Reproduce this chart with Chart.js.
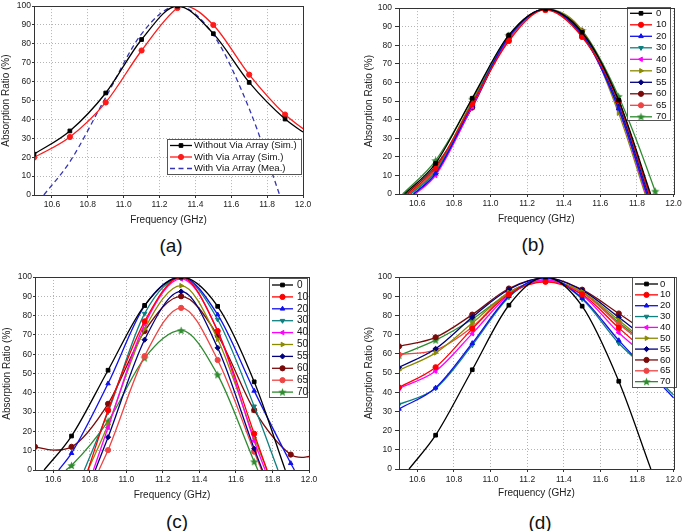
<!DOCTYPE html>
<html>
<head>
<meta charset="utf-8">
<script src="https://cdn.jsdelivr.net/npm/chart.js@4.4.1/dist/chart.umd.min.js"></script>
<style>
html, body { margin: 0; padding: 0; background: #fff; }
body { position: relative; width: 685px; height: 531px; overflow: hidden; font-family: "Liberation Sans", Arial, sans-serif; }
canvas { position: absolute; }
.tag { position: absolute; font-size: 19px; color: #111; transform: translate(-50%, -50%); }
</style>
</head>
<body>
<canvas id="chartA" width="340" height="232" style="left:0;top:0"></canvas>
<canvas id="chartB" width="345" height="232" style="left:340px;top:0"></canvas>
<canvas id="chartC" width="340" height="240" style="left:0;top:265px"></canvas>
<canvas id="chartD" width="345" height="240" style="left:340px;top:265px"></canvas>
<div class="tag" style="left:171px;top:246px">(a)</div>
<div class="tag" style="left:533px;top:245px">(b)</div>
<div class="tag" style="left:177px;top:522px">(c)</div>
<div class="tag" style="left:540px;top:523px">(d)</div>
<script>
// frequencies where the simulation markers sit, axis ticks
const markerFreqs = [10.5, 10.7, 10.9, 11.1, 11.3, 11.5, 11.7, 11.9];
const xTicks = [10.6, 10.8, 11.0, 11.2, 11.4, 11.6, 11.8, 12.0];
const yTicks = [0, 10, 20, 30, 40, 50, 60, 70, 80, 90, 100];
const angleNames = ['0', '10', '20', '30', '40', '50', '55', '60', '65', '70'];

// (a) via array comparison, [GHz, %]
const aNames = ['Without Via Array (Sim.)', 'With Via Array (Sim.)', 'With Via Array (Mea.)'];
const aWithout = [[10.5, 21.6], [10.7, 33.9], [10.9, 54], [11.1, 82.3], [11.3, 100], [11.5, 85.4], [11.7, 59.6], [11.9, 40.2], [12.0, 33.3]];
const aWith = [[10.5, 19.8], [10.7, 30.7], [10.9, 49], [11.1, 76.5], [11.3, 99], [11.34, 100], [11.5, 90], [11.7, 63.7], [11.9, 42.6], [12.0, 35.1]];
const aMeasured = [[10.555, 0], [10.7, 17.6], [10.9, 51.7], [11.1, 85.3], [11.3, 100], [11.5, 84.8], [11.7, 45.7], [11.87, 0]];

// (b)
const b0 = [[10.53, 0], [10.7, 16.5], [10.9, 51.5], [11.1, 85.5], [11.3, 99.5], [11.5, 87], [11.7, 50.5], [11.875, 0]];
const b10 = [[10.55, 0], [10.7, 14], [10.9, 48.5], [11.1, 82.3], [11.3, 99], [11.5, 84.5], [11.7, 50], [11.87, 0]];
const b20 = [[10.58, 0], [10.7, 11], [10.9, 48], [11.1, 84.5], [11.3, 99.5], [11.5, 86], [11.7, 46], [11.855, 0]];
const b30 = [[10.565, 0], [10.7, 12], [10.9, 49], [11.1, 84.5], [11.3, 99.5], [11.5, 86.5], [11.7, 46], [11.855, 0]];
const b40 = [[10.59, 0], [10.7, 10], [10.9, 47], [11.1, 84], [11.3, 99.5], [11.5, 86], [11.7, 45.5], [11.85, 0]];
const b50 = [[10.56, 0], [10.7, 13], [10.9, 50], [11.1, 85], [11.3, 99.5], [11.5, 88], [11.7, 43.5], [11.845, 0]];
const b55 = [[10.58, 0], [10.7, 11], [10.9, 47], [11.1, 84], [11.3, 99.5], [11.5, 85.5], [11.7, 47.5], [11.86, 0]];
const b60 = [[10.54, 0], [10.7, 15], [10.9, 46.5], [11.1, 85], [11.3, 99.5], [11.5, 87.5], [11.7, 50], [11.87, 0]];
const b65 = [[10.56, 0], [10.7, 13], [10.9, 47.5], [11.1, 83], [11.3, 99.3], [11.5, 85], [11.7, 49], [11.865, 0]];
const b70 = [[10.52, 0], [10.7, 18], [10.9, 51], [11.1, 85.3], [11.3, 99.5], [11.5, 88], [11.7, 52.5], [11.9, 1.5], [11.905, 0]];

// (c)
const c0 = [[10.55, 0], [10.7, 17.6], [10.9, 51.7], [11.1, 85.3], [11.3, 100], [11.5, 84.8], [11.7, 45.7], [11.87, 0]];
const c10 = [[10.79, 0], [10.9, 31], [11.1, 77], [11.3, 100], [11.5, 72], [11.7, 18.8], [11.77, 0]];
const c20 = [[10.63, 0], [10.7, 8.7], [10.9, 44.8], [11.1, 85], [11.3, 100], [11.5, 80.5], [11.7, 41], [11.9, 3.5], [11.92, 0]];
const c30 = [[10.77, 0], [10.9, 30], [11.1, 81], [11.3, 99.5], [11.5, 78], [11.7, 33], [11.83, 0]];
const c40 = [[10.82, 0], [10.9, 22], [11.1, 75.5], [11.3, 99], [11.5, 72], [11.7, 15], [11.76, 0]];
const c50 = [[10.79, 0], [10.9, 23.5], [11.1, 73], [11.3, 95.5], [11.5, 67.7], [11.7, 16.8], [11.77, 0]];
const c55 = [[10.83, 0], [10.9, 17], [11.1, 67.5], [11.3, 92.5], [11.5, 63.3], [11.7, 11], [11.745, 0]];
const c60 = [[10.5, 12], [10.6, 10.3], [10.7, 12], [10.9, 34.3], [11.1, 72], [11.3, 90], [11.5, 69.7], [11.7, 31], [11.9, 8], [11.96, 6.5], [12.0, 7]];
const c65 = [[10.85, 0], [10.9, 10.3], [11.1, 59], [11.3, 84], [11.5, 57], [11.7, 9.5], [11.74, 0]];
const c70 = [[10.67, 0], [10.7, 2.3], [10.9, 25.3], [11.1, 58], [11.3, 72.3], [11.5, 49.3], [11.7, 4.3], [11.72, 0]];

// (d)
const d0 = [[10.555, 0], [10.7, 17.6], [10.9, 51.7], [11.1, 85.3], [11.3, 100], [11.5, 84.8], [11.7, 45.7], [11.875, 0]];
const d10 = [[10.5, 42.5], [10.7, 53], [10.9, 73], [11.1, 91], [11.3, 97.5], [11.5, 91], [11.7, 73.5], [11.9, 57], [12.0, 49]];
const d20 = [[10.5, 31.3], [10.7, 42.3], [10.9, 65.5], [11.1, 90], [11.3, 99.5], [11.5, 89], [11.7, 67], [11.9, 47], [12.0, 37]];
const d30 = [[10.5, 33.6], [10.7, 42], [10.9, 64.5], [11.1, 89.5], [11.3, 99.5], [11.5, 88.5], [11.7, 65.5], [11.9, 48], [12.0, 38.5]];
const d40 = [[10.5, 42], [10.7, 51], [10.9, 70.5], [11.1, 90.5], [11.3, 98.5], [11.5, 90.5], [11.7, 71], [11.9, 55], [12.0, 47]];
const d50 = [[10.5, 51.5], [10.7, 60.5], [10.9, 76], [11.1, 92], [11.3, 98.5], [11.5, 92.3], [11.7, 77.5], [11.9, 62], [12.0, 55]];
const d55 = [[10.5, 52.9], [10.7, 62.6], [10.9, 79], [11.1, 93.5], [11.3, 99.5], [11.5, 93], [11.7, 79], [11.9, 64], [12.0, 57]];
const d60 = [[10.5, 63.9], [10.7, 68.6], [10.9, 80.4], [11.1, 94], [11.3, 99.5], [11.5, 93.4], [11.7, 81], [11.9, 68], [12.0, 62]];
const d65 = [[10.5, 59.6], [10.7, 62], [10.9, 74], [11.1, 92], [11.3, 97.8], [11.5, 92], [11.7, 75.5], [11.9, 61], [12.0, 54]];
const d70 = [[10.5, 59.1], [10.7, 67.1], [10.9, 78], [11.1, 91.5], [11.3, 98.5], [11.5, 92], [11.7, 76.3], [11.9, 62], [12.0, 56]];

// styles (Origin look)
const FONT = '"Liberation Sans", Arial, sans-serif';
const angleColors = ['#000000', '#ff0000', '#1010ee', '#0e8080', '#ff00ff', '#8a8a00', '#000080', '#7a0a0a', '#ef4444', '#2e8b2e'];
const angleRot = [0, 0, 0, 180, 270, 90, 0, 0, 0, 0];

function starImage(color) {
    const c = document.createElement('canvas');
    c.width = 9; c.height = 9;
    const g = c.getContext('2d');
    g.fillStyle = color;
    g.beginPath();
    for (let i = 0; i < 10; i++) {
        const r = i % 2 ? 1.9 : 4.4;
        const a = -Math.PI / 2 + i * Math.PI / 5;
        g.lineTo(4.5 + r * Math.cos(a), 4.8 + r * Math.sin(a));
    }
    g.closePath();
    g.fill();
    return c;
}
const angleStyles = ['rect', 'circle', 'triangle', 'triangle', 'triangle', 'triangle', 'rectRot', 'circle', 'circle', starImage(angleColors[9])];

function isMarker(f) {
    return markerFreqs.some(m => Math.abs(m - f) < 1e-6);
}

function makeSet(label, pts, color, style, rot, extra) {
    return Object.assign({
        label: label,
        data: pts.map(p => ({ x: p[0], y: p[1] })),
        borderColor: color,
        backgroundColor: color,
        borderWidth: 1.3,
        pointStyle: style,
        pointRotation: rot,
        pointRadius: pts.map(p => isMarker(p[0]) ? 2.6 : 0),
        pointHoverRadius: 0,
        pointBorderWidth: 1,
        cubicInterpolationMode: 'monotone',
        fill: false
    }, extra || {});
}

function angleSets(list) {
    return list.map((pts, i) => makeSet(angleNames[i], pts, angleColors[i], angleStyles[i], angleRot[i]));
}

// legend box drawn inside the plot, Origin style
const boxLegend = {
    id: 'boxLegend',
    afterDatasetsDraw(chart, args, o) {
        const ctx = chart.ctx;
        ctx.save();
        ctx.fillStyle = '#fff';
        ctx.fillRect(o.x, o.y, o.w, o.h);
        ctx.strokeStyle = '#555';
        ctx.lineWidth = 1;
        ctx.strokeRect(o.x + 0.5, o.y + 0.5, o.w, o.h);
        chart.data.datasets.forEach((ds, i) => {
            const y = o.y + o.first + i * o.rowH;
            ctx.strokeStyle = ds.borderColor;
            ctx.lineWidth = ds.borderWidth;
            ctx.setLineDash(ds.borderDash || []);
            ctx.beginPath();
            ctx.moveTo(o.x + o.lineX0, y);
            ctx.lineTo(o.x + o.lineX1, y);
            ctx.stroke();
            ctx.setLineDash([]);
            if (!ds.noMarker && Chart.helpers && Chart.helpers.drawPoint) {
                ctx.fillStyle = ds.backgroundColor;
                ctx.strokeStyle = ds.borderColor;
                ctx.lineWidth = 1;
                Chart.helpers.drawPoint(ctx, { pointStyle: ds.pointStyle, rotation: ds.pointRotation, radius: 2.6, borderWidth: 1 },
                    o.x + (o.lineX0 + o.lineX1) / 2, y);
            }
            ctx.fillStyle = '#111';
            ctx.font = o.font;
            ctx.textBaseline = 'middle';
            ctx.fillText(ds.label, o.x + o.textX, y);
        });
        ctx.restore();
    }
};

const frame = {
    id: 'frame',
    afterDraw(chart) {
        const { left, top, right, bottom } = chart.chartArea;
        const ctx = chart.ctx;
        ctx.save();
        ctx.strokeStyle = '#333';
        ctx.lineWidth = 1;
        ctx.strokeRect(Math.round(left) + 0.5, Math.round(top) + 0.5, Math.round(right - left), Math.round(bottom - top));
        ctx.restore();
    }
};

function makeOptions(cfg) {
    return {
        responsive: false,
        animation: false,
        layout: { padding: cfg.pad },
        plugins: { legend: { display: false }, tooltip: { enabled: false }, boxLegend: cfg.legend },
        scales: {
            x: {
                type: 'linear', min: 10.5, max: 12.0,
                afterBuildTicks: s => { s.ticks = xTicks.map(v => ({ value: v })); },
                afterFit: s => { s.height = cfg.xh; },
                ticks: { font: { family: FONT, size: 8.5 }, color: '#222', padding: cfg.xtpad, maxRotation: 0, autoSkip: false,
                    callback: v => Number(v).toFixed(1) },
                grid: { color: '#b4b4b4', lineWidth: 1, tickColor: '#333', tickLength: 3, tickBorderDash: [] },
                border: { display: false, dash: [1, 2] },
                title: { display: true, text: 'Frequency (GHz)', font: { family: FONT, size: 10 }, color: '#222', padding: 0 }
            },
            y: {
                min: 0, max: 100,
                afterBuildTicks: s => { s.ticks = yTicks.map(v => ({ value: v })); },
                afterFit: s => { s.width = cfg.yw; },
                ticks: { font: { family: FONT, size: 8.5 }, color: '#222', padding: cfg.ytpad },
                grid: { color: '#b4b4b4', lineWidth: 1, tickColor: '#333', tickLength: cfg.ytl, tickBorderDash: [] },
                border: { display: false, dash: [1, 2] },
                title: { display: true, text: 'Absorption Ratio (%)', font: { family: FONT, size: 10 }, color: '#222', padding: 0 }
            }
        }
    };
}

new Chart(document.getElementById('chartA'), {
    type: 'line',
    data: {
        datasets: [
            makeSet(aNames[0], aWithout, '#000000', 'rect', 0),
            makeSet(aNames[1], aWith, '#ff1a1a', 'circle', 0),
            makeSet(aNames[2], aMeasured, '#3535b5', 'circle', 0, { borderDash: [5, 3.5], pointRadius: 0, noMarker: true })
        ]
    },
    options: makeOptions({
        pad: { left: 0, right: 37, top: 5, bottom: 6 }, xh: 31, yw: 34, ytl: 2, ytpad: 1, xtpad: 2,
        legend: { x: 167, y: 139, w: 134, h: 35, first: 6.5, rowH: 11.5, lineX0: 3, lineX1: 25, textX: 27, font: '9.6px ' + FONT }
    }),
    plugins: [boxLegend, frame]
});

new Chart(document.getElementById('chartB'), {
    type: 'line',
    data: { datasets: angleSets([b0, b10, b20, b30, b40, b50, b55, b60, b65, b70]) },
    options: makeOptions({
        pad: { left: 23, right: 11.5, top: 5, bottom: 7 }, xh: 31, yw: 36, ytl: 4, ytpad: 3, xtpad: 2,
        legend: { x: 287, y: 7, w: 43, h: 113, first: 6.3, rowH: 11.5, lineX0: 3, lineX1: 25, textX: 29, font: '9.5px ' + FONT }
    }),
    plugins: [boxLegend, frame]
});

new Chart(document.getElementById('chartC'), {
    type: 'line',
    data: { datasets: angleSets([c0, c10, c20, c30, c40, c50, c55, c60, c65, c70]) },
    options: makeOptions({
        pad: { left: 1, right: 31, top: 12, bottom: 4 }, xh: 31, yw: 34, ytl: 2, ytpad: 1, xtpad: 2,
        legend: { x: 269, y: 13, w: 38, h: 119, first: 7, rowH: 11.9, lineX0: 3, lineX1: 24, textX: 28, font: '10px ' + FONT }
    }),
    plugins: [boxLegend, frame]
});

new Chart(document.getElementById('chartD'), {
    type: 'line',
    data: { datasets: angleSets([d0, d10, d20, d30, d40, d50, d55, d60, d65, d70]) },
    options: makeOptions({
        pad: { left: 23, right: 8, top: 12, bottom: 6 }, xh: 30, yw: 36, ytl: 4, ytpad: 3, xtpad: 3,
        legend: { x: 292, y: 12, w: 44, h: 110, first: 7, rowH: 10.85, lineX0: 3, lineX1: 26, textX: 28, font: '9.5px ' + FONT }
    }),
    plugins: [boxLegend, frame]
});
</script>
</body>
</html>
